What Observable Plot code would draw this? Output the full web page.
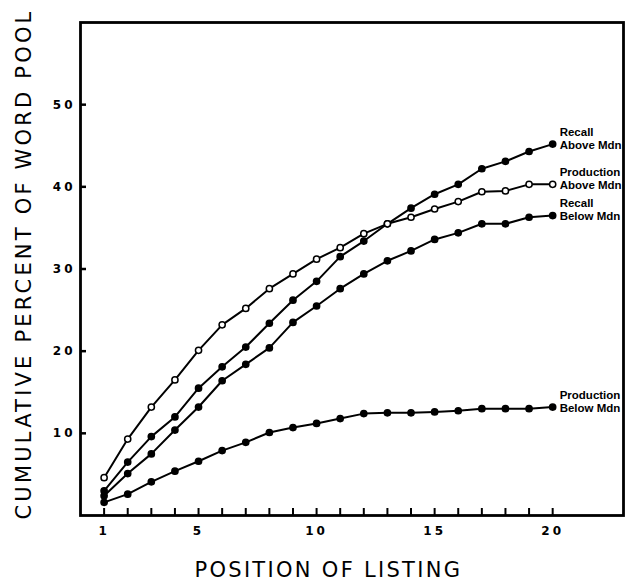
<!DOCTYPE html>
<html>
<head>
<meta charset="utf-8">
<script src="https://cdn.jsdelivr.net/npm/d3@7"></script>
<script src="https://cdn.jsdelivr.net/npm/@observablehq/plot@0.6"></script>
<style>
  html, body { margin: 0; padding: 0; background: #fff; }
  #chart svg { display: block; }
  #chart [aria-label$="tick label"] text { letter-spacing: 3px; }
  .ytitle text { letter-spacing: 3.2px; }
  .xtitle text { letter-spacing: 2.3px; }
</style>
</head>
<body>
<div id="chart"></div>
<script>
// Position of listing
const positions = d3.range(1, 21);
// Cumulative percent of word pool
const recallAbove     = [3.0, 6.5, 9.6, 12.0, 15.5, 18.1, 20.5, 23.4, 26.2, 28.5, 31.5, 33.4, 35.5, 37.4, 39.1, 40.3, 42.2, 43.1, 44.3, 45.2];
const productionAbove = [4.6, 9.3, 13.2, 16.5, 20.1, 23.2, 25.2, 27.6, 29.4, 31.2, 32.6, 34.3, 35.5, 36.3, 37.3, 38.2, 39.4, 39.5, 40.3, 40.3];
const recallBelow     = [2.4, 5.1, 7.5, 10.4, 13.2, 16.4, 18.4, 20.4, 23.5, 25.5, 27.6, 29.4, 31.0, 32.2, 33.6, 34.4, 35.5, 35.5, 36.3, 36.5];
const productionBelow = [1.6, 2.6, 4.1, 5.4, 6.6, 7.9, 8.9, 10.1, 10.7, 11.2, 11.8, 12.4, 12.5, 12.5, 12.6, 12.75, 13.0, 13.0, 13.0, 13.2];

const seriesNames  = ["Recall\nAbove Mdn", "Production\nAbove Mdn", "Recall\nBelow Mdn", "Production\nBelow Mdn"];
const seriesValues = [recallAbove, productionAbove, recallBelow, productionBelow];
const seriesOpen   = [false, true, false, false];

const xTickValues = d3.range(1, 21);
const xTickLabels = [1, 5, 10, 15, 20];
const yTickValues = [10, 20, 30, 40, 50];

const xTitle = "POSITION OF LISTING";
const yTitle = "CUMULATIVE PERCENT OF WORD POOL";

const rows = seriesNames.flatMap((name, i) =>
  positions.map((p, j) => ({series: name, x: p, y: seriesValues[i][j], open: seriesOpen[i]})));
const ends = seriesNames.map((name, i) => ({series: name, x: positions[positions.length - 1], y: seriesValues[i][positions.length - 1]}));

const W = 631, H = 581, mL = 80, mR = 8, mT = 22, mB = 66;
const plotW = W - mL - mR, plotH = H - mT - mB;

const chart = Plot.plot({
  width: W,
  height: H,
  marginLeft: mL,
  marginRight: mR,
  marginTop: mT,
  marginBottom: mB,
  style: {fontFamily: "DejaVu Sans", background: "#fff", color: "#000"},
  x: {domain: [0, 23]},
  y: {domain: [0, 60]},
  marks: [
    Plot.frame({stroke: "#000", strokeWidth: 2.8}),
    Plot.tickX(xTickValues, {x: d => d, insetTop: plotH - 7, stroke: "#000", strokeWidth: 2}),
    Plot.tickY(yTickValues, {y: d => d, insetRight: plotW - 6, stroke: "#000", strokeWidth: 2.5}),
    Plot.axisX({ticks: xTickLabels, tickSize: 0, tickPadding: 11, fontSize: 12, fontWeight: "bold", label: null}),
    Plot.axisY({ticks: yTickValues, tickSize: 0, tickPadding: 5, fontSize: 12, fontWeight: "bold", label: null}),
    Plot.line(rows, {x: "x", y: "y", z: "series", stroke: "#000", strokeWidth: 2}),
    Plot.dot(rows, {x: "x", y: "y", r: 3.1, stroke: "#000", strokeWidth: 1.5, fill: d => d.open ? "#fff" : "#000"}),
    Plot.text(ends, {x: "x", y: "y", text: "series", textAnchor: "start", lineAnchor: "middle", dx: 7, dy: -6,
      fontFamily: "Liberation Sans", fontWeight: "bold", fontSize: 11.5, lineHeight: 1.15, fill: "#000"}),
    Plot.text([xTitle], {x: () => 10.5, frameAnchor: "bottom", dy: 55, text: d => d, fontSize: 21, textAnchor: "middle", lineAnchor: "middle", fill: "#000", className: "xtitle"}),
    Plot.text([yTitle], {frameAnchor: "left", dx: -56, dy: -5, rotate: -90, text: d => d, fontSize: 21, textAnchor: "middle", lineAnchor: "middle", fill: "#000", className: "ytitle"})
  ]
});
document.getElementById("chart").appendChild(chart);
</script>
</body>
</html>
